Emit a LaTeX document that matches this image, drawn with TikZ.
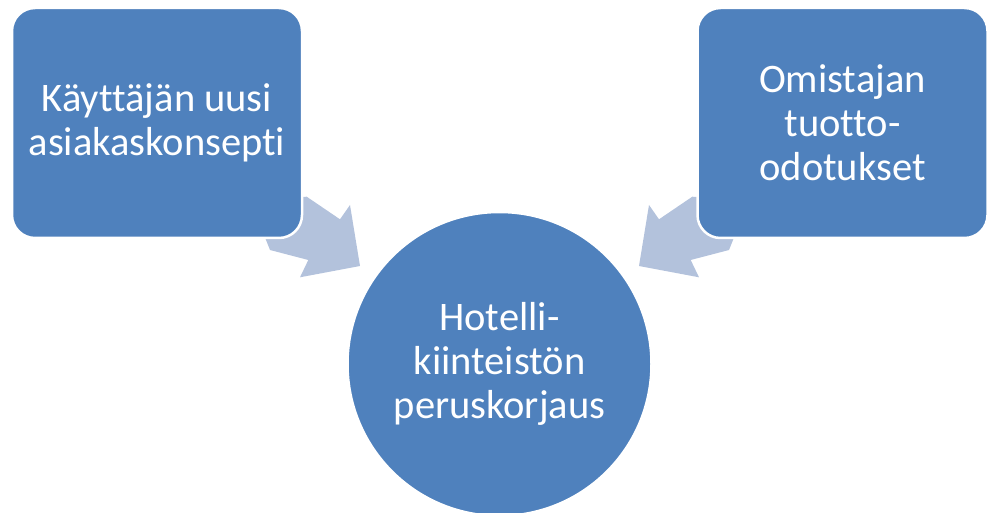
\documentclass[tikz,border=0pt]{standalone}
\usepackage{fontspec}
\setmainfont{Carlito}[Ligatures={NoCommon}]
\definecolor{boxblue}{HTML}{4F81BD}
\definecolor{arrowblue}{HTML}{B3C2DC}
\begin{document}
\begin{tikzpicture}[x=1pt,y=-1pt,
  txt/.style={text=white,font=\fontsize{40.5}{44}\selectfont,align=center},
  sidebox/.style={txt,rectangle,rounded corners=23pt,fill=boxblue,draw=white,line width=2.5pt,minimum width=290pt,minimum height=230pt,inner sep=0pt},
  hub/.style={txt,circle,fill=boxblue,draw=white,line width=2.5pt,minimum size=304pt,inner sep=0pt},
  flow/.style={fill=arrowblue,draw=none}]
\useasboundingbox (0,0) rectangle (989,513);
\clip (0,0) rectangle (989,513);
% arrows (behind boxes)
\fill[flow] (250,200) -- (306.7,196.7) -- (340,219.3) -- (350,205) -- (360,266) -- (300,277.3) -- (308.3,260) -- (270,250) -- cycle;
\fill[flow] (749,200) -- (692.3,196.7) -- (659,219.3) -- (649,205) -- (639,266) -- (699,277.3) -- (690.7,260) -- (729,250) -- cycle;
\node[sidebox] (user) at (157,123) {Käyttäjän uusi\\asiakaskonsepti};
\node[sidebox] (owner) at (842.5,123) {Omistajan\\tuotto-\\odotukset};
\node[hub] (hotel) at (499.5,364) {Hotelli-\\kiinteistön\\peruskorjaus};
\end{tikzpicture}
\end{document}
